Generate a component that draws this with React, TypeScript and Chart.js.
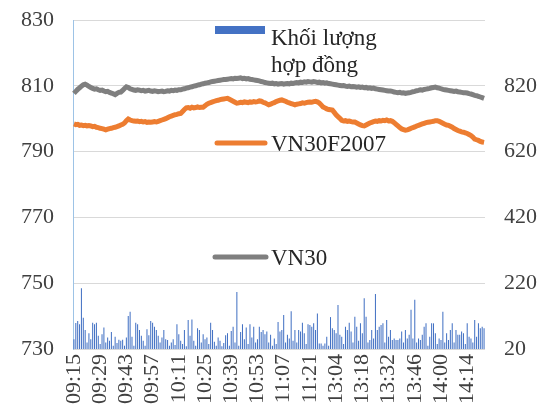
import React, { useEffect, useRef } from "react";
import { Chart, registerables } from "chart.js";

Chart.register(...registerables);

const TIMES: string[] = [
  "09:15","09:16","09:17","09:18","09:19","09:20","09:21","09:22","09:23","09:24",
  "09:25","09:26","09:27","09:28","09:29","09:30","09:31","09:32","09:33","09:34",
  "09:35","09:36","09:37","09:38","09:39","09:40","09:41","09:42","09:43","09:44",
  "09:45","09:46","09:47","09:48","09:49","09:50","09:51","09:52","09:53","09:54",
  "09:55","09:56","09:57","09:58","09:59",
  "10:00","10:01","10:02","10:03","10:04","10:05","10:06","10:07","10:08","10:09",
  "10:10","10:11","10:12","10:13","10:14","10:15","10:16","10:17","10:18","10:19",
  "10:20","10:21","10:22","10:23","10:24","10:25","10:26","10:27","10:28","10:29",
  "10:30","10:31","10:32","10:33","10:34","10:35","10:36","10:37","10:38","10:39",
  "10:40","10:41","10:42","10:43","10:44","10:45","10:46","10:47","10:48","10:49",
  "10:50","10:51","10:52","10:53","10:54","10:55","10:56","10:57","10:58","10:59",
  "11:00","11:01","11:02","11:03","11:04","11:05","11:06","11:07","11:08","11:09",
  "11:10","11:11","11:12","11:13","11:14","11:15","11:16","11:17","11:18","11:19",
  "11:20","11:21","11:22","11:23","11:24","11:25","11:26","11:27","11:28","11:29",
  "11:30",
  "13:00","13:01","13:02","13:03","13:04","13:05","13:06","13:07","13:08","13:09",
  "13:10","13:11","13:12","13:13","13:14","13:15","13:16","13:17","13:18","13:19",
  "13:20","13:21","13:22","13:23","13:24","13:25","13:26","13:27","13:28","13:29",
  "13:30","13:31","13:32","13:33","13:34","13:35","13:36","13:37","13:38","13:39",
  "13:40","13:41","13:42","13:43","13:44","13:45","13:46","13:47","13:48","13:49",
  "13:50","13:51","13:52","13:53","13:54","13:55","13:56","13:57","13:58","13:59",
  "14:00","14:01","14:02","14:03","14:04","14:05","14:06","14:07","14:08","14:09",
  "14:10","14:11","14:12","14:13","14:14","14:15","14:16","14:17","14:18","14:19",
  "14:20","14:21","14:22","14:23",
];

const VN30: number[] = [
  807.7, 808.3, 808.9, 809.4, 809.9, 810.3, 810.5, 810.2, 809.8, 809.5,
  809.2, 809.0, 809.1, 808.8, 808.6, 808.7, 808.4, 808.2, 808.3, 808.0,
  807.8, 807.6, 807.3, 807.7, 808.0, 808.1, 808.6, 809.2, 809.7, 809.5,
  809.1, 808.9, 808.7, 808.6, 808.8, 808.7, 808.5, 808.6, 808.4, 808.5,
  808.6, 808.4, 808.3, 808.5, 808.4, 808.2, 808.3, 808.4, 808.2, 808.3,
  808.5, 808.4, 808.6, 808.5, 808.7, 808.6, 808.8, 808.8, 809.0, 809.1,
  809.3, 809.4, 809.6, 809.7, 809.9, 810.0, 810.2, 810.3, 810.5, 810.6,
  810.8, 810.9, 811.0, 811.2, 811.3, 811.4, 811.5, 811.6, 811.7, 811.8,
  811.9, 811.9, 812.0, 812.1, 812.2, 812.1, 812.3, 812.2, 812.3, 812.4,
  812.2, 812.3, 812.1, 812.2, 812.0, 811.9, 811.8, 811.7, 811.6, 811.5,
  811.3, 811.2, 811.0, 810.9, 810.8, 810.7, 810.8, 810.6, 810.7, 810.5,
  810.6, 810.7, 810.5, 810.6, 810.7, 810.6, 810.8, 810.7, 810.9, 811.0,
  810.9, 811.1, 811.0, 811.2, 811.1, 811.3, 811.2, 811.1, 811.3, 811.2,
  811.0, 811.1, 810.9, 811.0, 810.8, 810.9, 810.7, 810.6, 810.5, 810.4,
  810.3, 810.2, 810.1, 810.0, 810.1, 809.9, 809.8, 809.9, 809.7, 809.8,
  809.7, 809.6, 809.7, 809.5, 809.6, 809.4, 809.5, 809.3, 809.4, 809.2,
  809.3, 809.1, 809.0, 808.9, 808.8, 808.7, 808.6, 808.5, 808.4, 808.4,
  808.3, 808.1, 808.0, 807.9, 808.0, 807.8, 807.9, 807.7, 807.8, 807.9,
  808.0, 808.2, 808.3, 808.5, 808.6, 808.8, 808.7, 808.9, 809.0, 809.1,
  809.2, 809.4, 809.5, 809.6, 809.4, 809.3, 809.1, 808.9, 808.8, 808.7,
  808.6, 808.5, 808.4, 808.3, 808.4, 808.2, 808.1, 808.0, 807.9, 807.9,
  807.8, 807.6, 807.5, 807.3, 807.1, 807.0, 806.8, 806.6, 806.4, 806.2,
];

const VN30F2007: number[] = [
  798.4, 798.2, 798.3, 798.0, 798.1, 797.9, 798.0, 797.8, 797.9, 797.8,
  797.6, 797.7, 797.4, 797.3, 797.1, 797.0, 796.8, 796.6, 796.8, 797.0,
  797.1, 797.3, 797.4, 797.6, 797.8, 798.1, 798.3, 798.7, 799.4, 799.9,
  799.6, 799.4, 799.3, 799.2, 799.3, 799.1, 799.2, 799.0, 799.1, 798.9,
  799.0, 798.9, 799.0, 799.1, 799.0, 799.2, 799.4, 799.6, 799.8, 800.0,
  800.3, 800.6, 800.8, 801.0, 801.2, 801.3, 801.5, 801.6, 802.2, 802.8,
  803.3, 803.4, 803.2, 803.5, 803.3, 803.4, 803.6, 803.4, 803.5, 803.5,
  803.9, 804.4, 804.7, 804.9, 805.1, 805.3, 805.5, 805.6, 805.8, 805.9,
  806.0, 806.1, 806.2, 805.9, 805.6, 805.3, 805.0, 804.7, 804.8, 805.0,
  804.9, 805.1, 805.0, 804.9, 805.1, 805.0, 805.2, 805.1, 805.2, 805.4,
  805.3, 805.0, 804.8, 804.5, 804.2, 804.4, 804.7, 804.9, 805.2, 805.4,
  805.6, 805.7, 805.5, 805.3, 805.0, 804.8, 804.6, 804.4, 804.2, 804.4,
  804.5, 804.6, 804.8, 804.7, 804.9, 805.0, 805.1, 805.0, 805.2, 805.3,
  805.1, 804.8, 804.2, 803.6, 803.3, 803.0, 802.8, 802.7, 802.6, 801.9,
  801.2, 800.6, 800.1, 799.5, 799.3, 799.4, 799.2, 799.3, 799.1, 799.0,
  799.0, 798.7, 798.4, 798.1, 797.9, 797.8, 798.1, 798.4, 798.7, 798.9,
  799.1, 799.3, 799.2, 799.4, 799.3, 799.5, 799.4, 799.6, 799.3, 799.4,
  799.2, 798.8, 798.3, 797.8, 797.3, 796.9, 796.7, 796.5, 796.6, 796.8,
  797.1, 797.3, 797.5, 797.8, 798.0, 798.2, 798.4, 798.6, 798.8, 798.9,
  799.0, 799.1, 799.2, 799.4, 799.4, 799.2, 798.9, 798.6, 798.3, 798.1,
  798.0, 797.7, 797.4, 797.0, 796.7, 796.4, 796.2, 796.0, 795.9, 795.7,
  795.5, 795.2, 794.9, 794.4, 793.8, 793.6, 793.4, 793.1, 792.9, 792.8,
];

const VOLUME: number[] = [
  50, 99, 105, 95, 205, 115, 78, 40, 68, 50,
  100, 95, 100, 60, 35, 65, 85, 40, 55, 45,
  72, 30, 57, 38, 48, 45, 48, 30, 55, 120,
  133, 57, 30, 100, 95, 78, 60, 45, 30, 80,
  62, 105, 100, 88, 78, 60, 40, 55, 78, 50,
  47, 30, 40, 50, 32, 95, 65, 45, 35, 78,
  28, 108, 60, 110, 45, 30, 83, 78, 40, 65,
  50, 55, 35, 100, 78, 42, 30, 55, 45, 28,
  38, 62, 68, 30, 75, 88, 40, 193, 30, 72,
  95, 50, 85, 35, 95, 55, 88, 40, 50, 88,
  72, 78, 65, 73, 40, 63, 30, 52, 35, 102,
  73, 78, 123, 40, 63, 52, 135, 45, 78, 40,
  78, 73, 100, 68, 35, 95, 93, 88, 98, 78,
  128, 37, 37, 30, 37, 57, 30, 117, 83, 78,
  68, 154, 63, 57, 35, 88, 78, 100, 73, 40,
  118, 88, 45, 98, 68, 174, 118, 40, 47, 78,
  52, 187, 78, 88, 93, 98, 40, 108, 57, 78,
  47, 52, 47, 47, 52, 73, 40, 78, 52, 63,
  139, 52, 170, 40, 52, 47, 63, 88, 98, 30,
  57, 98, 98, 68, 35, 52, 47, 133, 40, 68,
  47, 78, 98, 40, 78, 63, 63, 73, 68, 35,
  98, 57, 52, 40, 108, 57, 98, 83, 88, 83,
];

const LABEL_STEP = 14;
const LEFT_TICKS = { min: 730, max: 830, step: 20 };
const RIGHT_TICKS = { min: 20, max: 1020, step: 200 };

const SERIF = "'Liberation Serif', 'Times New Roman', serif";
const C_BAR = "#4472C4";
const C_F = "#ED7D31";
const C_VN30 = "#7F7F7F";
const C_TEXT = "#404040";

const legendPlugin = {
  id: "insideLegend",
  afterDraw(chart: any) {
    const ctx = chart.ctx as CanvasRenderingContext2D;
    ctx.save();
    ctx.font = `23px ${SERIF}`;
    ctx.textAlign = "left";
    ctx.textBaseline = "alphabetic";
    ctx.fillStyle = C_BAR;
    ctx.fillRect(215, 26, 50, 8);
    ctx.fillStyle = "#262626";
    ctx.fillText("Khối lượng", 271, 45);
    ctx.fillText("hợp đồng", 271, 72);
    ctx.lineCap = "round";
    ctx.lineWidth = 5;
    ctx.strokeStyle = C_F;
    ctx.beginPath();
    ctx.moveTo(217, 143);
    ctx.lineTo(265, 143);
    ctx.stroke();
    ctx.fillText("VN30F2007", 271, 151);
    ctx.strokeStyle = C_VN30;
    ctx.beginPath();
    ctx.moveTo(215, 257);
    ctx.lineTo(266, 257);
    ctx.stroke();
    ctx.fillText("VN30", 271, 265);
    ctx.restore();
  },
};

export default function App() {
  const ref = useRef<HTMLCanvasElement | null>(null);

  useEffect(() => {
    if (!ref.current) return;
    const tickFont = { family: SERIF, size: 22 };
    const chart = new Chart(ref.current, {
      data: {
        labels: TIMES,
        datasets: [
          {
            type: "line",
            label: "VN30",
            data: VN30,
            borderColor: C_VN30,
            backgroundColor: C_VN30,
            borderWidth: 5,
            pointRadius: 0,
            tension: 0,
            yAxisID: "y",
            order: 0,
          },
          {
            type: "line",
            label: "VN30F2007",
            data: VN30F2007,
            borderColor: C_F,
            backgroundColor: C_F,
            borderWidth: 5,
            pointRadius: 0,
            tension: 0,
            yAxisID: "y",
            order: 1,
          },
          {
            type: "bar",
            label: "Khối lượng hợp đồng",
            data: VOLUME,
            backgroundColor: C_BAR,
            barPercentage: 0.55,
            categoryPercentage: 1,
            yAxisID: "y1",
            order: 2,
          },
        ] as any,
      },
      options: {
        animation: false,
        responsive: false,
        maintainAspectRatio: false,
        devicePixelRatio: 1,
        layout: { autoPadding: false, padding: { top: 20, left: 0, right: 0, bottom: 0 } },
        plugins: {
          legend: { display: false },
          title: { display: false },
          tooltip: { enabled: false },
        },
        scales: {
          x: {
            type: "category",
            offset: true,
            grid: { display: false, drawTicks: false },
            border: { display: false },
            ticks: {
              autoSkip: false,
              minRotation: 90,
              maxRotation: 90,
              padding: 5,
              color: C_TEXT,
              font: tickFont,
              callback: (_v: any, i: number) =>
                i % LABEL_STEP === 0 ? TIMES[i] : "",
            },
            afterFit: (s: any) => {
              s.height = 59;
              s.paddingTop = 0;
              s.paddingBottom = 0;
            },
          },
          y: {
            position: "left",
            min: LEFT_TICKS.min,
            max: LEFT_TICKS.max,
            ticks: {
              stepSize: LEFT_TICKS.step,
              padding: 19,
              color: C_TEXT,
              font: tickFont,
            },
            grid: { color: "#D9D9D9", lineWidth: 1, drawTicks: false },
            border: { display: true, color: "#9DC3E6", width: 1 },
            afterFit: (s: any) => {
              s.width = 73;
              s.paddingTop = 0;
              s.paddingBottom = 0;
            },
          },
          y1: {
            position: "right",
            min: RIGHT_TICKS.min,
            max: RIGHT_TICKS.max,
            ticks: {
              stepSize: RIGHT_TICKS.step,
              padding: 19,
              color: C_TEXT,
              font: tickFont,
              callback: (v: any) => (v === RIGHT_TICKS.max ? "" : String(v)),
            },
            grid: { display: false, drawTicks: false },
            border: { display: false },
            afterFit: (s: any) => {
              s.width = 55;
              s.paddingTop = 0;
              s.paddingBottom = 0;
            },
          },
        },
      } as any,
      plugins: [legendPlugin],
    });
    return () => chart.destroy();
  }, []);

  return (
    <div style={{ position: "fixed", left: 0, top: 0, width: 540, height: 408, background: "#fff" }}>
      <canvas ref={ref} width={540} height={408} style={{ display: "block", width: 540, height: 408 }} />
    </div>
  );
}
